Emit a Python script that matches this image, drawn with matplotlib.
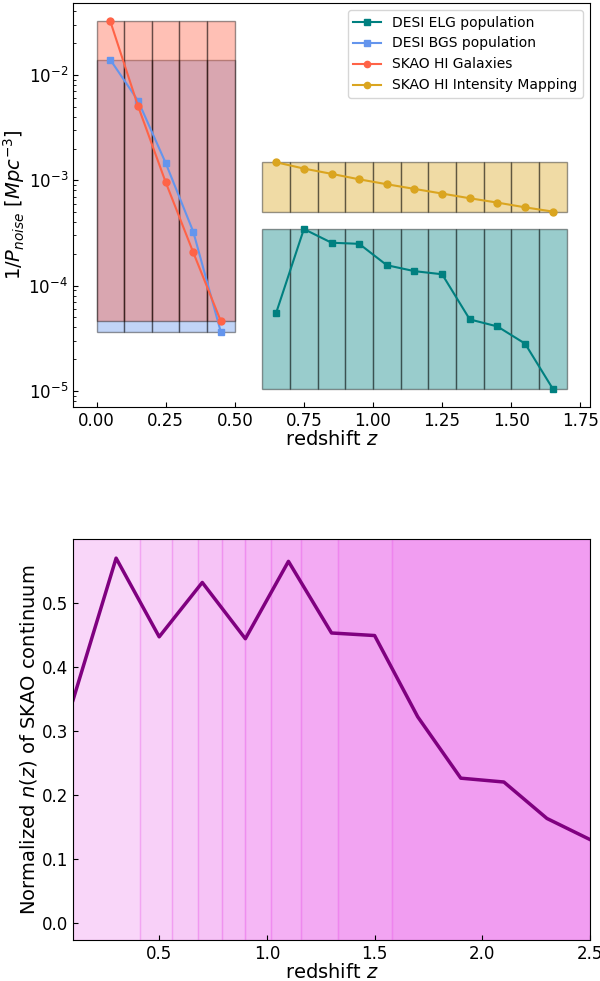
import numpy as np
import matplotlib
matplotlib.use("Agg")
import matplotlib.pyplot as plt

# ---------------- data ----------------
z_low = [0.05, 0.15, 0.25, 0.35, 0.45]
bgs = [0.0139, 0.0057, 1.46e-3, 3.24e-4, 3.59e-5]
hi_gal = [0.0322, 5.07e-3, 9.6e-4, 2.06e-4, 4.57e-5]

z_high = [0.65, 0.75, 0.85, 0.95, 1.05, 1.15, 1.25, 1.35, 1.45, 1.55, 1.65]
elg = [5.53e-5, 3.44e-4, 2.55e-4, 2.49e-4, 1.56e-4, 1.37e-4, 1.28e-4,
       4.77e-5, 4.09e-5, 2.81e-5, 1.05e-5]
hi_im = [1.48e-3, 1.29e-3, 1.15e-3, 1.02e-3, 9.16e-4, 8.27e-4, 7.47e-4,
         6.74e-4, 6.13e-4, 5.53e-4, 5.04e-4]

z_cont = [0.1, 0.3, 0.5, 0.7, 0.9, 1.1, 1.3, 1.5, 1.7, 1.9, 2.1, 2.3, 2.5]
n_cont = [0.348, 0.570, 0.447, 0.532, 0.444, 0.565, 0.453, 0.449,
          0.322, 0.226, 0.220, 0.163, 0.130]
cont_edges = [0.1, 0.41, 0.56, 0.68, 0.79, 0.90, 1.02, 1.16, 1.33, 1.58, 2.5]

plt.rcParams['font.family'] = ['DejaVu Sans']

fig = plt.figure(figsize=(6.0, 9.81), dpi=100)
ax1 = fig.add_axes([0.1217, 0.5851, 0.8617, 0.4118])
ax2 = fig.add_axes([0.1217, 0.0418, 0.8617, 0.4088])

def bins(ax, zc, vals, color):
    lo, hi = min(vals), max(vals)
    ax.bar(zc, [hi - lo] * len(zc), bottom=lo, width=0.1, color=color,
           alpha=0.4, edgecolor='k', linewidth=1.0)

bins(ax1, z_low, bgs, 'cornflowerblue')
bins(ax1, z_low, hi_gal, 'tomato')
bins(ax1, z_high, hi_im, 'goldenrod')
bins(ax1, z_high, elg, 'teal')

ax1.plot(z_high, elg, '-s', color='teal', lw=1.5, ms=5, label='DESI ELG population')
ax1.plot(z_low, bgs, '-s', color='cornflowerblue', lw=1.5, ms=5, label='DESI BGS population')
ax1.plot(z_low, hi_gal, '-o', color='tomato', lw=1.5, ms=5, label='SKAO HI Galaxies')
ax1.plot(z_high, hi_im, '-o', color='goldenrod', lw=1.5, ms=5, label='SKAO HI Intensity Mapping')

ax1.set_yscale('log')
ax1.use_sticky_edges = False
ax1.margins(x=0.05, y=0.05)
ax1.set_xticks([0.0, 0.25, 0.5, 0.75, 1.0, 1.25, 1.5, 1.75])
ax1.tick_params(which='both', direction='in', labelsize=12)
ax1.set_xlabel('redshift $z$', fontsize=14, labelpad=0)
ax1.set_ylabel('$1/P_{noise}$ $[Mpc^{-3}]$', fontsize=14, labelpad=1)
ax1.legend(loc='upper right', fontsize=10, numpoints=1, handlelength=2.0,
           markerscale=0.9)

# bottom panel
alphas = np.linspace(0.32, 0.78, len(cont_edges) - 1)
for i in range(len(cont_edges) - 1):
    ax2.axvspan(cont_edges[i], cont_edges[i + 1], color='violet', alpha=alphas[i], lw=1)
ax2.plot(z_cont, n_cont, color='purple', lw=2.5)
ax2.set_xlim(0.1, 2.5)
ax2.set_ylim(-0.027, 0.6)
ax2.set_xticks([0.5, 1.0, 1.5, 2.0, 2.5])
ax2.set_yticks([0.0, 0.1, 0.2, 0.3, 0.4, 0.5])
ax2.tick_params(which='both', direction='in', labelsize=12)
ax2.set_xlabel('redshift $z$', fontsize=14, labelpad=0)
ax2.set_ylabel('Normalized $n(z)$ of SKAO continuum', fontsize=14, labelpad=2)

fig.savefig('out.png', dpi=100)
